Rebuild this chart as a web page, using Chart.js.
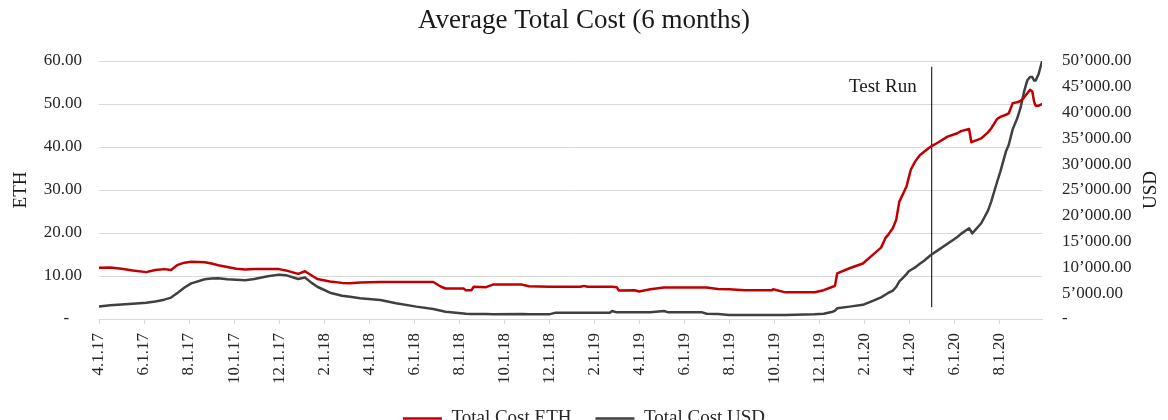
<!DOCTYPE html>
<html>
<head>
<meta charset="utf-8">
<title>Average Total Cost (6 months)</title>
<script src="https://cdn.jsdelivr.net/npm/chart.js@4.4.1/dist/chart.umd.min.js"></script>
<style>
  html, body { margin: 0; padding: 0; background: #fff; overflow: hidden; }
</style>
</head>
<body>
<canvas id="costChart" width="1168" height="438"></canvas>
<script>
// Data (x = months since 1 Apr 2017)
const chartTitle = 'Average Total Cost (6 months)';
const tickMonths = [0, 2, 4, 6, 8, 10, 12, 14, 16, 18, 20, 22, 24, 26, 28, 30, 32, 34, 36, 38, 40];
const tickLabels = ['4.1.17', '6.1.17', '8.1.17', '10.1.17', '12.1.17', '2.1.18', '4.1.18', '6.1.18',
  '8.1.18', '10.1.18', '12.1.18', '2.1.19', '4.1.19', '6.1.19', '8.1.19', '10.1.19', '12.1.19',
  '2.1.20', '4.1.20', '6.1.20', '8.1.20'];

const months = [0, 0.5, 1.0, 1.5, 2.1, 2.5, 2.9, 3.2, 3.5, 3.8, 4.1, 4.7, 5.0, 5.3, 5.7, 6.1, 6.5, 6.9,
  7.5, 8.0, 8.3, 8.85, 9.15, 9.45, 9.7, 10.26, 10.8, 11.15, 11.6, 12.5, 13.2, 14.1, 14.85, 15.2, 15.4,
  16.2, 16.3, 16.55, 16.65, 17.2, 17.5, 18.8, 19.1, 20.0, 20.3, 21.4, 21.55, 21.7, 22.7, 22.8, 23.0,
  23.1, 23.8, 24.0, 24.5, 25.1, 25.3, 26.8, 27.0, 27.5, 28.0, 28.7, 29.9, 29.95, 30.5, 31.8, 32.2,
  32.6, 32.7, 32.8, 33.35, 33.94, 34.38, 34.75, 34.94, 35.05, 35.27, 35.42, 35.56, 35.7, 35.88, 35.97,
  36.07, 36.26, 36.47, 36.66, 36.96, 37.3, 37.7, 38.14, 38.3, 38.66, 38.76, 38.8, 39.2, 39.5, 39.64,
  39.9, 40.05, 40.3, 40.42, 40.6, 40.8, 40.95, 41.1, 41.25, 41.37, 41.47, 41.55, 41.62, 41.75, 41.9];

const costEth = [11.9, 12.0, 11.7, 11.3, 10.9, 11.4, 11.6, 11.4, 12.6, 13.1, 13.3, 13.2, 12.9, 12.5,
  12.1, 11.7, 11.5, 11.6, 11.6, 11.6, 11.3, 10.5, 11.1, 10.1, 9.3, 8.7, 8.4, 8.3, 8.5, 8.6, 8.6, 8.6,
  8.6, 7.5, 7.1, 7.1, 6.7, 6.7, 7.5, 7.4, 8.0, 8.0, 7.6, 7.5, 7.5, 7.5, 7.7, 7.5, 7.5, 7.5, 7.4, 6.6,
  6.7, 6.4, 6.9, 7.3, 7.3, 7.3, 7.3, 7.0, 6.9, 6.7, 6.7, 6.9, 6.2, 6.2, 6.7, 7.5, 7.7, 10.6, 11.8,
  12.9, 14.9, 16.6, 18.8, 19.5, 21.1, 23.0, 27.3, 28.8, 30.8, 32.7, 34.7, 36.6, 38.1, 38.9, 40.1,
  41.1, 42.4, 43.2, 43.7, 44.2, 41.1, 41.2, 42.0, 43.4, 44.3, 46.5, 47.0, 47.5, 47.8, 50.2, 50.4,
  50.7, 51.5, 52.5, 53.3, 52.9, 50.5, 49.6, 49.6, 50.0];

const costUsd = [2400, 2650, 2800, 2950, 3150, 3400, 3750, 4150, 5100, 6100, 6900, 7700, 7850, 7900,
  7700, 7600, 7500, 7750, 8300, 8600, 8500, 7750, 8050, 7000, 6250, 5100, 4500, 4300, 4000, 3680,
  3050, 2400, 1950, 1600, 1420, 1050, 1000, 970, 970, 950, 940, 970, 900, 900, 1230, 1230, 1230,
  1230, 1230, 1550, 1290, 1290, 1290, 1290, 1290, 1550, 1290, 1290, 1030, 970, 775, 775, 775, 775,
  775, 900, 1000, 1420, 1600, 2070, 2400, 2750, 3500, 4200, 4700, 5000, 5500, 6200, 7300, 7880,
  8700, 9200, 9500, 10000, 10700, 11300, 12400, 13400, 14600, 15900, 16500, 17580, 16900, 16600,
  18550, 21000, 22700, 26500, 28550, 32500, 33720, 36800, 38900, 41000, 44000, 46300, 46900, 46900,
  46200, 46200, 47500, 49900];

// "Test Run" marker
const testRunMonth = 37.0;
const testRunSpan = [2.8, 58.6];
const testRunLabel = 'Test Run';
const testRunLabelAt = 54;

const serif = '"Liberation Serif", "Times New Roman", serif';
const textColor = '#262626';
const gridColor = '#d9d9d9';

function usdLabel(v) {
    if (v === 0) return '-';
    return Math.round(v).toString().replace(/\B(?=(\d{3})+(?!\d))/g, '\u2019') + '.00';
}

// title, axis titles (both read bottom-to-top) and the Test Run caption
const decorations = {
    id: 'decorations',
    afterDraw(chart) {
        const { ctx, chartArea, scales } = chart;
        ctx.save();
        ctx.fillStyle = '#1a1a1a';
        ctx.textBaseline = 'middle';
        ctx.textAlign = 'center';
        ctx.font = '27px ' + serif;
        ctx.fillText(chartTitle, chart.width / 2, 21);

        ctx.font = '19px ' + serif;
        ctx.textAlign = 'right';
        ctx.fillText(testRunLabel, scales.x.getPixelForValue(testRunMonth) - 15, scales.y.getPixelForValue(testRunLabelAt));

        const midY = (chartArea.top + chartArea.bottom) / 2;
        [['ETH', scales.y.left + 21], ['USD', scales.y1.right - 17]].forEach(([txt, x]) => {
            ctx.save();
            ctx.translate(x, midY);
            ctx.rotate(-Math.PI / 2);
            ctx.textAlign = 'center';
            ctx.fillText(txt, 0, 0);
            ctx.restore();
        });
        ctx.restore();
    }
};

const ctx = document.getElementById('costChart').getContext('2d');
new Chart(ctx, {
    type: 'line',
    data: {
        datasets: [
            {
                label: 'Total Cost ETH',
                data: months.map((m, i) => ({ x: m, y: costEth[i] })),
                borderColor: '#c00000',
                backgroundColor: '#c00000',
                borderWidth: 2.5,
                yAxisID: 'y'
            },
            {
                label: 'Total Cost USD',
                data: months.map((m, i) => ({ x: m, y: costUsd[i] })),
                borderColor: '#404040',
                backgroundColor: '#404040',
                borderWidth: 2.5,
                yAxisID: 'y1'
            },
            {
                label: testRunLabel,
                data: testRunSpan.map(v => ({ x: testRunMonth, y: v })),
                borderColor: '#000',
                borderWidth: 1,
                yAxisID: 'y'
            }
        ]
    },
    options: {
        responsive: false,
        animation: false,
        layout: { padding: { top: 61, left: 0, right: 0, bottom: 0 } },
        elements: {
            point: { radius: 0, hoverRadius: 0 },
            line: { tension: 0, borderJoinStyle: 'round', borderCapStyle: 'round' }
        },
        scales: {
            x: {
                type: 'linear',
                min: 0,
                max: 41.9,
                afterBuildTicks: (scale) => { scale.ticks = tickMonths.map(v => ({ value: v })); },
                afterFit: (scale) => { scale.height = 66; },
                grid: { drawOnChartArea: false, drawTicks: true, tickLength: 5, color: gridColor },
                border: { display: true, color: gridColor },
                ticks: {
                    minRotation: 90,
                    maxRotation: 90,
                    padding: 9,
                    autoSkip: false,
                    color: textColor,
                    font: { family: serif, size: 17 },
                    callback: (v, i) => tickLabels[i]
                }
            },
            y: {
                position: 'left',
                min: 0,
                max: 60,
                afterFit: (scale) => { scale.width = 99; },
                grid: { color: gridColor, drawTicks: false },
                border: { display: false },
                ticks: {
                    stepSize: 10,
                    padding: 17,
                    color: textColor,
                    font: { family: serif, size: 17 },
                    callback: v => v === 0 ? '-   ' : v.toFixed(2)
                }
            },
            y1: {
                position: 'right',
                min: 0,
                max: 50000,
                afterFit: (scale) => { scale.width = 126; },
                grid: { drawOnChartArea: false, drawTicks: false },
                border: { display: false },
                ticks: {
                    stepSize: 5000,
                    padding: 20,
                    color: textColor,
                    font: { family: serif, size: 17 },
                    callback: usdLabel
                }
            }
        },
        plugins: {
            title: { display: false },
            tooltip: { enabled: false },
            legend: {
                position: 'bottom',
                labels: {
                    usePointStyle: true,
                    pointStyle: 'line',
                    pointStyleWidth: 39,
                    padding: 24,
                    color: textColor,
                    font: { family: serif, size: 19 },
                    filter: item => item.text !== testRunLabel
                }
            }
        }
    },
    plugins: [decorations]
});
</script>
</body>
</html>
